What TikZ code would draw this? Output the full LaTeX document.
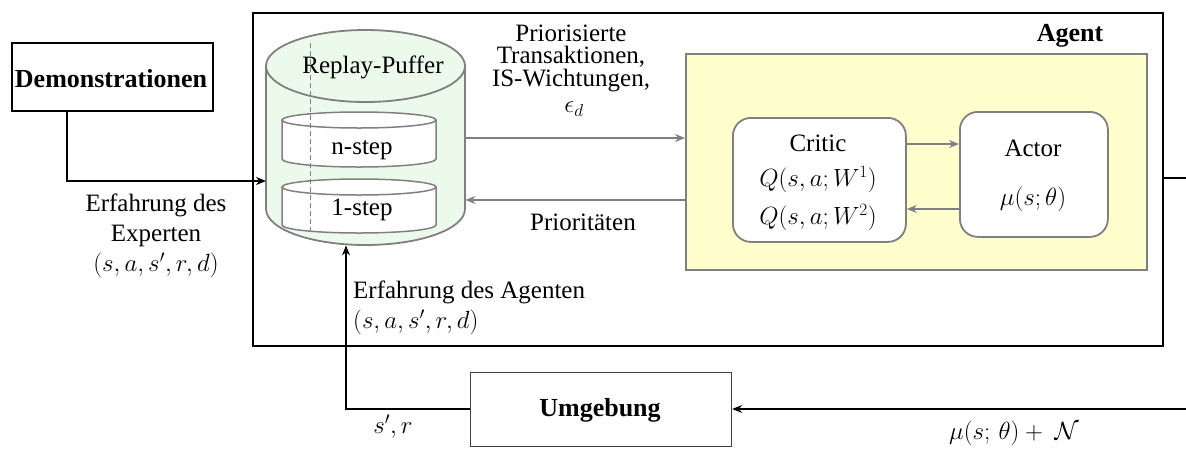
\documentclass[tikz,border=0pt]{standalone}
\usepackage{fontspec}
\setmainfont{Liberation Serif}
\usetikzlibrary{arrows.meta}
\definecolor{edgegray}{RGB}{128,128,128}
\definecolor{pufferfill}{RGB}{236,250,236}
\definecolor{agentfill}{RGB}{255,255,206}
\begin{document}
\begin{tikzpicture}[x=1pt,y=-1pt,
  every node/.style={font=\fontsize{25}{29}\selectfont, inner sep=0pt},
  boldtxt/.style={font=\fontsize{26}{30}\selectfont\bfseries},
  txt/.style={align=center},
  blackarrow/.style={draw=black, line width=1.2pt, -{Stealth[length=10pt,width=8pt]}},
  grayarrow/.style={draw=edgegray, line width=1.2pt, -{Stealth[length=10pt,width=8pt]}},
  graybox/.style={draw=edgegray, line width=1.5pt},
  roundbox/.style={draw=edgegray, line width=1.8pt, fill=white, rounded corners=18pt},
  blackbox/.style={draw=black, line width=1.8pt},
]
\useasboundingbox (0,0) rectangle (1186,448);

% agent frame
\node[blackbox, minimum width=910pt, minimum height=333pt, anchor=north west] (agentframe) at (252,12) {};
\node[boldtxt] (agentlabel) at (1070,36) {Agent};

% yellow learner area
\node[graybox, fill=agentfill, minimum width=461pt, minimum height=216pt, anchor=north west] (learner) at (685,53) {};

% critic and actor
\node[roundbox, minimum width=173pt, minimum height=124pt, anchor=north west] (critic) at (732,117) {};
\node (criticlabel) at (818,143) {Critic};
\node (q1) at (818,180) {$Q(s,a;W^1)$};
\node (q2) at (818,218) {$Q(s,a;W^2)$};
\node[roundbox, minimum width=148pt, minimum height=125pt, anchor=north west] (actor) at (959,111) {};
\node (actorlabel) at (1033,148) {Actor};
\node (mu) at (1033,199) {$\mu(s;\theta)$};

\draw[grayarrow] (critic.east |- 0,144) -- (actor.west |- 0,144);
\draw[grayarrow] (actor.west |- 0,209) -- (critic.east |- 0,209);

% replay buffer (cylinder)
\fill[pufferfill] (266,66) -- (266,209) arc[start angle=180, end angle=360, x radius=99.5pt, y radius=36pt] -- (465,66) -- cycle;
\draw[edgegray, line width=1.8pt, fill=pufferfill] (365.5,66) ellipse[x radius=99.5pt, y radius=36pt];
\draw[edgegray, line width=1.8pt] (266,66) -- (266,209) arc[start angle=180, end angle=360, x radius=99.5pt, y radius=36pt] -- (465,66);
\node[minimum width=199pt, minimum height=215pt, anchor=north west] (puffer) at (266,30) {};
\node (pufferlabel) at (373,67) {Replay-Puffer};

% n-step
\draw[edgegray, line width=1.5pt, fill=white] (282,120) -- (282,159) arc[start angle=180, end angle=360, x radius=77pt, y radius=8pt] -- (436,120);
\draw[edgegray, line width=1.5pt, fill=white] (359,120) ellipse[x radius=77pt, y radius=8pt];
\node (nstep) at (362,150) {n-step};
% 1-step
\draw[edgegray, line width=1.5pt, fill=white] (282,187) -- (282,225) arc[start angle=180, end angle=360, x radius=77pt, y radius=8pt] -- (436,187);
\draw[edgegray, line width=1.5pt, fill=white] (359,187) ellipse[x radius=77pt, y radius=8pt];
\node (onestep) at (362,210) {1-step};
\draw[edgegray, line width=0.9pt, dash pattern=on 5pt off 3pt] (310,43) -- (310,232);

% buffer <-> learner
\draw[grayarrow] (puffer.east |- 0,138) -- (learner.west |- 0,138);
\draw[grayarrow] (learner.west |- 0,200) -- (puffer.east |- 0,200);
\node (prio1) at (571,33) {Priorisierte};
\node (prio2) at (571,57) {Transaktionen,};
\node (prio3) at (571,81) {IS-Wichtungen,};
\node (eps) at (574,109) {$\epsilon_d$};
\node (prioritaeten) at (583,222) {Prioritäten};

% demonstrations
\node[blackbox, minimum width=201pt, minimum height=68pt, anchor=north west] (demo) at (11,42) {};
\node[boldtxt] (demolabel) at (111,79) {Demonstrationen};
\coordinate (democorner) at (67,181);
\draw[blackarrow] (demo.south -| democorner) -- (democorner) -- (puffer.west |- democorner);
\node[txt, font=\fontsize{25}{30}\selectfont] (expertlabel) at (156,236) {Erfahrung des\\Experten\\$(s,a,s',r,d)$};

% environment
\node[draw=black!75, line width=1.2pt, minimum width=261pt, minimum height=74pt, anchor=north west] (env) at (470,372) {};
\node[boldtxt] (envlabel) at (600,410) {Umgebung};
\coordinate (envcorner) at (346,409);
\draw[blackarrow] (env.west |- envcorner) -- (envcorner) -- (puffer.south -| envcorner);
\node[txt, align=left, anchor=west, font=\fontsize{25}{30}\selectfont] (agentexp) at (353,308) {Erfahrung des Agenten\\$(s,a,s',r,d)$};
\node (sr) at (393,427) {$s',r$};

% action path to the environment
\coordinate (actout) at (1186,178);
\draw[black, line width=1.2pt] (agentframe.east |- actout) -- (actout);
\coordinate (actin) at (1186,409);
\draw[blackarrow] (actin) -- (env.east |- actin);
\node (actionlabel) at (1014,433) {$\mu(s;\,\theta)+\ \mathcal{N}$};
\end{tikzpicture}
\end{document}
